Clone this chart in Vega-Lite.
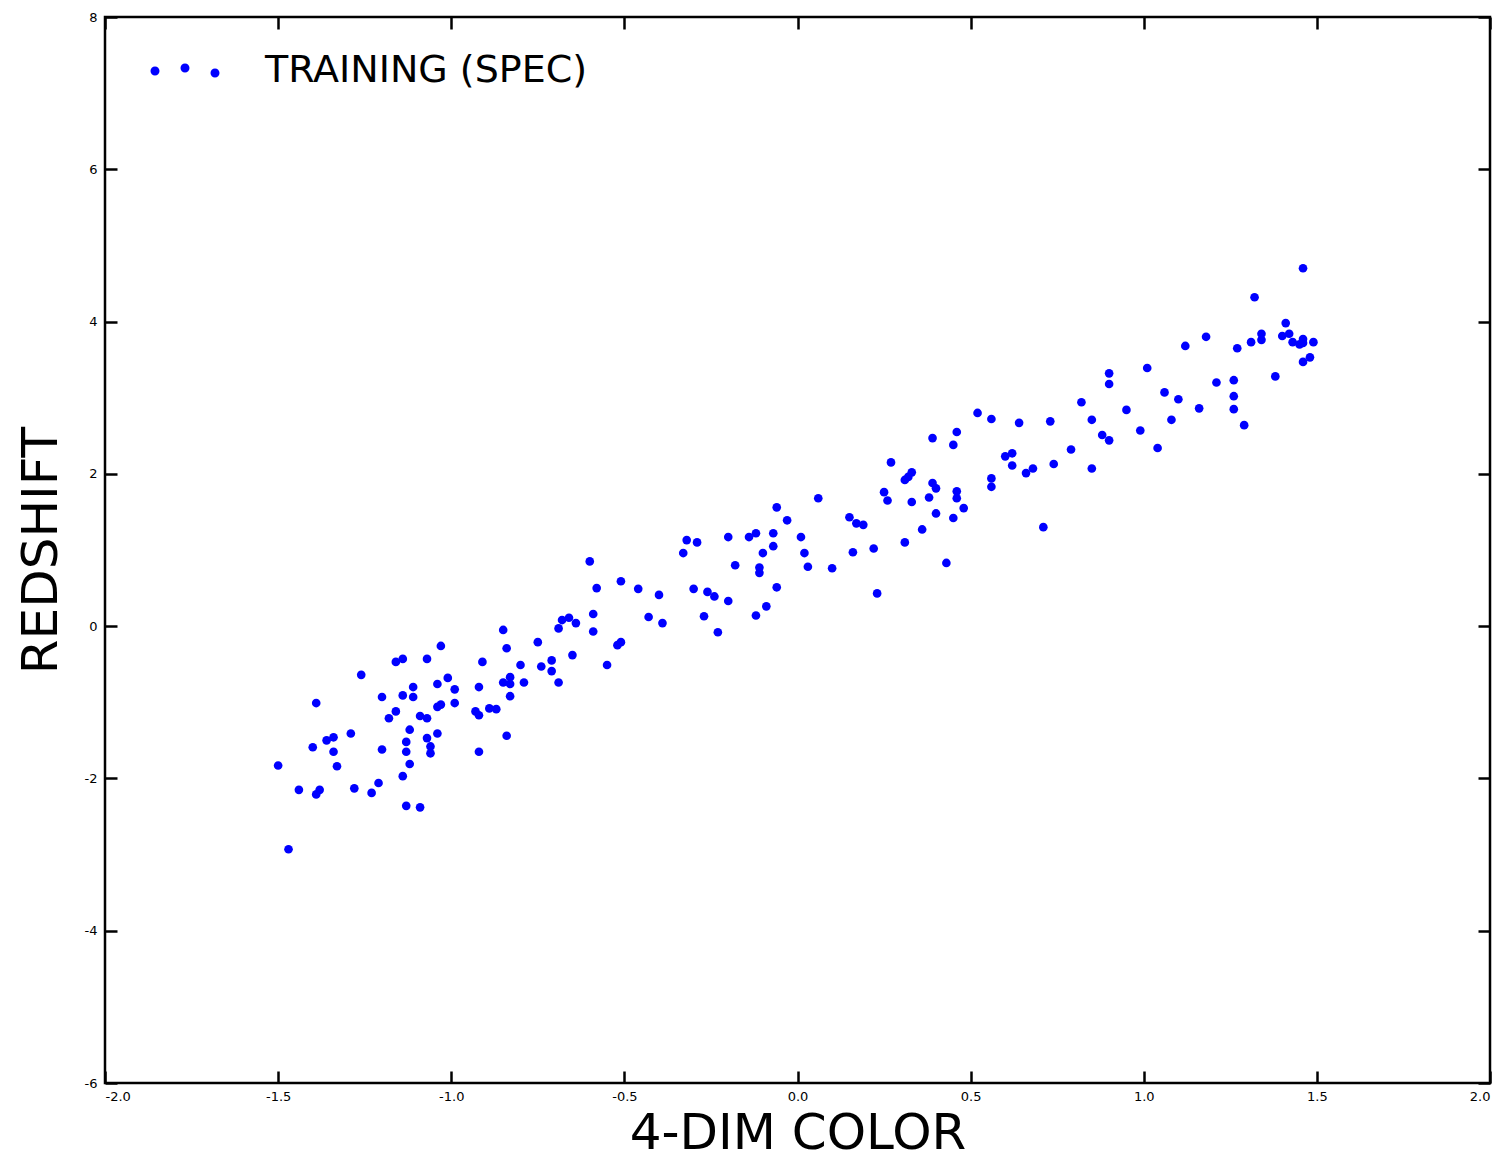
{
  "$schema": "https://vega.github.io/schema/vega-lite/v6.json",
  "width": 1385,
  "height": 1066,
  "autosize": "none",
  "padding": {"left": 105, "top": 17, "right": 15, "bottom": 77},
  "background": "white",
  "config": {
    "view": {"stroke": "black", "strokeWidth": 2.5},
    "axis": {
      "grid": false,
      "domain": false,
      "tickColor": "black",
      "tickWidth": 2.5,
      "tickSize": -12,
      "labelFont": "DejaVu Sans",
      "labelFontSize": 13,
      "labelColor": "black",
      "titleFont": "DejaVu Sans",
      "titleFontSize": 50,
      "titleFontWeight": "normal",
      "titleColor": "black"
    }
  },
  "data": {
    "values": [
      {"x": -1.16, "y": -0.47}, {"x": -1.14, "y": -0.43}, {"x": -1.07, "y": -0.43}, {"x": -1.26, "y": -0.64},
      {"x": -1.39, "y": -1.01}, {"x": -1.20, "y": -0.93}, {"x": -1.14, "y": -0.91}, {"x": -1.11, "y": -0.80},
      {"x": -1.11, "y": -0.93}, {"x": -1.16, "y": -1.12}, {"x": -1.18, "y": -1.21}, {"x": -1.09, "y": -1.18},
      {"x": -1.07, "y": -1.21}, {"x": -1.12, "y": -1.36}, {"x": -1.29, "y": -1.41}, {"x": -1.36, "y": -1.50},
      {"x": -1.34, "y": -1.46}, {"x": -1.40, "y": -1.59}, {"x": -1.34, "y": -1.65}, {"x": -1.20, "y": -1.62},
      {"x": -1.13, "y": -1.52}, {"x": -1.13, "y": -1.65}, {"x": -1.33, "y": -1.84}, {"x": -1.50, "y": -1.83},
      {"x": -1.12, "y": -1.81}, {"x": -1.14, "y": -1.97}, {"x": -1.44, "y": -2.15}, {"x": -1.39, "y": -2.21},
      {"x": -1.38, "y": -2.15}, {"x": -1.28, "y": -2.13}, {"x": -1.21, "y": -2.06}, {"x": -1.23, "y": -2.19},
      {"x": -1.13, "y": -2.36}, {"x": -1.09, "y": -2.38}, {"x": -1.47, "y": -2.93}, {"x": -1.07, "y": -1.47},
      {"x": -1.06, "y": -1.58}, {"x": -1.06, "y": -1.67}, {"x": -1.04, "y": -1.41}, {"x": -0.60, "y": 0.85},
      {"x": -0.58, "y": 0.50}, {"x": -0.59, "y": 0.16}, {"x": -0.59, "y": -0.07}, {"x": -0.68, "y": 0.08},
      {"x": -0.66, "y": 0.11}, {"x": -0.64, "y": 0.04}, {"x": -0.69, "y": -0.03}, {"x": -0.85, "y": -0.05},
      {"x": -0.84, "y": -0.29}, {"x": -0.75, "y": -0.21}, {"x": -1.03, "y": -0.26}, {"x": -0.91, "y": -0.47},
      {"x": -0.80, "y": -0.51}, {"x": -0.71, "y": -0.45}, {"x": -0.71, "y": -0.59}, {"x": -0.74, "y": -0.53},
      {"x": -0.65, "y": -0.38}, {"x": -0.69, "y": -0.74}, {"x": -1.01, "y": -0.68}, {"x": -1.04, "y": -0.76},
      {"x": -0.99, "y": -0.83}, {"x": -0.99, "y": -1.01}, {"x": -0.92, "y": -0.80}, {"x": -0.85, "y": -0.74},
      {"x": -0.83, "y": -0.67}, {"x": -0.83, "y": -0.76}, {"x": -0.79, "y": -0.74}, {"x": -0.83, "y": -0.92},
      {"x": -1.04, "y": -1.06}, {"x": -1.03, "y": -1.03}, {"x": -0.93, "y": -1.12}, {"x": -0.92, "y": -1.17},
      {"x": -0.89, "y": -1.08}, {"x": -0.87, "y": -1.09}, {"x": -0.84, "y": -1.44}, {"x": -0.92, "y": -1.65},
      {"x": -0.32, "y": 1.13}, {"x": -0.29, "y": 1.10}, {"x": -0.33, "y": 0.96}, {"x": -0.20, "y": 1.17},
      {"x": -0.14, "y": 1.17}, {"x": -0.12, "y": 1.22}, {"x": -0.10, "y": 0.96}, {"x": -0.18, "y": 0.80},
      {"x": -0.11, "y": 0.77}, {"x": -0.11, "y": 0.70}, {"x": -0.51, "y": 0.59}, {"x": -0.46, "y": 0.49},
      {"x": -0.40, "y": 0.41}, {"x": -0.30, "y": 0.49}, {"x": -0.26, "y": 0.45}, {"x": -0.24, "y": 0.39},
      {"x": -0.20, "y": 0.33}, {"x": -0.09, "y": 0.26}, {"x": -0.12, "y": 0.14}, {"x": -0.43, "y": 0.12},
      {"x": -0.39, "y": 0.04}, {"x": -0.27, "y": 0.13}, {"x": -0.23, "y": -0.08}, {"x": -0.52, "y": -0.25},
      {"x": -0.51, "y": -0.21}, {"x": -0.55, "y": -0.51}, {"x": 0.39, "y": 2.47}, {"x": 0.27, "y": 2.15},
      {"x": 0.33, "y": 2.02}, {"x": 0.32, "y": 1.96}, {"x": 0.31, "y": 1.92}, {"x": 0.39, "y": 1.88},
      {"x": 0.38, "y": 1.69}, {"x": 0.40, "y": 1.81}, {"x": 0.40, "y": 1.48}, {"x": 0.25, "y": 1.76},
      {"x": 0.26, "y": 1.65}, {"x": 0.33, "y": 1.63}, {"x": 0.06, "y": 1.68}, {"x": -0.06, "y": 1.56},
      {"x": -0.03, "y": 1.39}, {"x": -0.07, "y": 1.22}, {"x": -0.07, "y": 1.05}, {"x": 0.01, "y": 1.17},
      {"x": 0.02, "y": 0.96}, {"x": 0.03, "y": 0.78}, {"x": 0.10, "y": 0.76}, {"x": 0.15, "y": 1.43},
      {"x": 0.17, "y": 1.35}, {"x": 0.19, "y": 1.33}, {"x": 0.16, "y": 0.97}, {"x": 0.22, "y": 1.02},
      {"x": 0.31, "y": 1.10}, {"x": 0.36, "y": 1.27}, {"x": -0.06, "y": 0.51}, {"x": 0.23, "y": 0.43},
      {"x": 0.82, "y": 2.94}, {"x": 0.52, "y": 2.80}, {"x": 0.56, "y": 2.72}, {"x": 0.64, "y": 2.67},
      {"x": 0.73, "y": 2.69}, {"x": 0.85, "y": 2.71}, {"x": 0.88, "y": 2.51}, {"x": 0.90, "y": 2.44},
      {"x": 0.46, "y": 2.55}, {"x": 0.45, "y": 2.38}, {"x": 0.60, "y": 2.23}, {"x": 0.62, "y": 2.27},
      {"x": 0.62, "y": 2.11}, {"x": 0.66, "y": 2.01}, {"x": 0.68, "y": 2.07}, {"x": 0.74, "y": 2.13},
      {"x": 0.79, "y": 2.32}, {"x": 0.85, "y": 2.07}, {"x": 0.56, "y": 1.94}, {"x": 0.56, "y": 1.83},
      {"x": 0.46, "y": 1.77}, {"x": 0.46, "y": 1.68}, {"x": 0.48, "y": 1.55}, {"x": 0.45, "y": 1.42},
      {"x": 0.71, "y": 1.30}, {"x": 0.43, "y": 0.83}, {"x": 1.46, "y": 4.70}, {"x": 1.32, "y": 4.32},
      {"x": 1.41, "y": 3.98}, {"x": 1.34, "y": 3.84}, {"x": 1.34, "y": 3.76}, {"x": 1.40, "y": 3.81},
      {"x": 1.42, "y": 3.84}, {"x": 1.43, "y": 3.73}, {"x": 1.46, "y": 3.77}, {"x": 1.46, "y": 3.72},
      {"x": 1.49, "y": 3.73}, {"x": 1.48, "y": 3.53}, {"x": 1.46, "y": 3.47}, {"x": 1.31, "y": 3.73},
      {"x": 1.27, "y": 3.65}, {"x": 1.18, "y": 3.80}, {"x": 1.12, "y": 3.68}, {"x": 1.01, "y": 3.39},
      {"x": 1.38, "y": 3.28}, {"x": 0.90, "y": 3.32}, {"x": 0.90, "y": 3.18}, {"x": 1.21, "y": 3.20},
      {"x": 1.26, "y": 3.23}, {"x": 1.26, "y": 3.02}, {"x": 1.26, "y": 2.85}, {"x": 1.29, "y": 2.64},
      {"x": 1.06, "y": 3.07}, {"x": 1.10, "y": 2.98}, {"x": 1.16, "y": 2.86}, {"x": 0.95, "y": 2.84},
      {"x": 1.08, "y": 2.71}, {"x": 0.99, "y": 2.57}, {"x": 1.04, "y": 2.34}, {"x": 1.45, "y": 3.70}
    ]
  },
  "layer": [
    {
      "mark": {"type": "point", "filled": true, "size": 75, "opacity": 1, "strokeWidth": 0},
      "encoding": {
        "x": {
          "field": "x", "type": "quantitative",
          "scale": {"domain": [-2, 2], "nice": false, "zero": false},
          "axis": {
            "orient": "bottom",
            "values": [-2, -1.5, -1, -0.5, 0, 0.5, 1, 1.5, 2],
            "labelExpr": "replace(format(datum.value, '.1f'), '\u2212', '-')",
            "labelPadding": 19,
            "title": "4-DIM COLOR",
            "titlePadding": 5
          }
        },
        "y": {
          "field": "y", "type": "quantitative",
          "scale": {"domain": [-6, 8], "nice": false, "zero": false},
          "axis": {
            "orient": "left",
            "values": [-6, -4, -2, 0, 2, 4, 6, 8],
            "labelExpr": "replace(format(datum.value, 'd'), '\u2212', '-')",
            "labelPadding": 20,
            "title": "REDSHIFT",
            "titlePadding": 18
          }
        },
        "color": {
          "datum": "TRAINING (SPEC)", "type": "nominal",
          "scale": {"range": ["#0000ff"]},
          "legend": {
            "title": null,
            "orient": "none",
            "legendX": 50,
            "legendY": 24,
            "symbolType": "M -0.85 0 A 0.15 0.15 0 1 0 -1.15 0 A 0.15 0.15 0 1 0 -0.85 0 Z M 0.15 -0.1 A 0.15 0.15 0 1 0 -0.15 -0.1 A 0.15 0.15 0 1 0 0.15 -0.1 Z M 1.15 0.07 A 0.15 0.15 0 1 0 0.85 0.07 A 0.15 0.15 0 1 0 1.15 0.07 Z",
            "symbolSize": 3600,
            "symbolStrokeWidth": 0,
            "labelFont": "DejaVu Sans",
            "labelFontSize": 38,
            "labelColor": "black",
            "labelLimit": 0,
            "labelOffset": 50
          }
        }
      }
    },
    {
      "mark": {"type": "point", "opacity": 0},
      "encoding": {
        "x": {
          "field": "x", "type": "quantitative",
          "axis": {"orient": "top", "values": [-2, -1.5, -1, -0.5, 0, 0.5, 1, 1.5, 2], "labels": false, "title": null}
        },
        "y": {
          "field": "y", "type": "quantitative",
          "axis": {"orient": "right", "values": [-6, -4, -2, 0, 2, 4, 6, 8], "labels": false, "title": null}
        }
      }
    }
  ],
  "resolve": {"axis": {"x": "independent", "y": "independent"}}
}
